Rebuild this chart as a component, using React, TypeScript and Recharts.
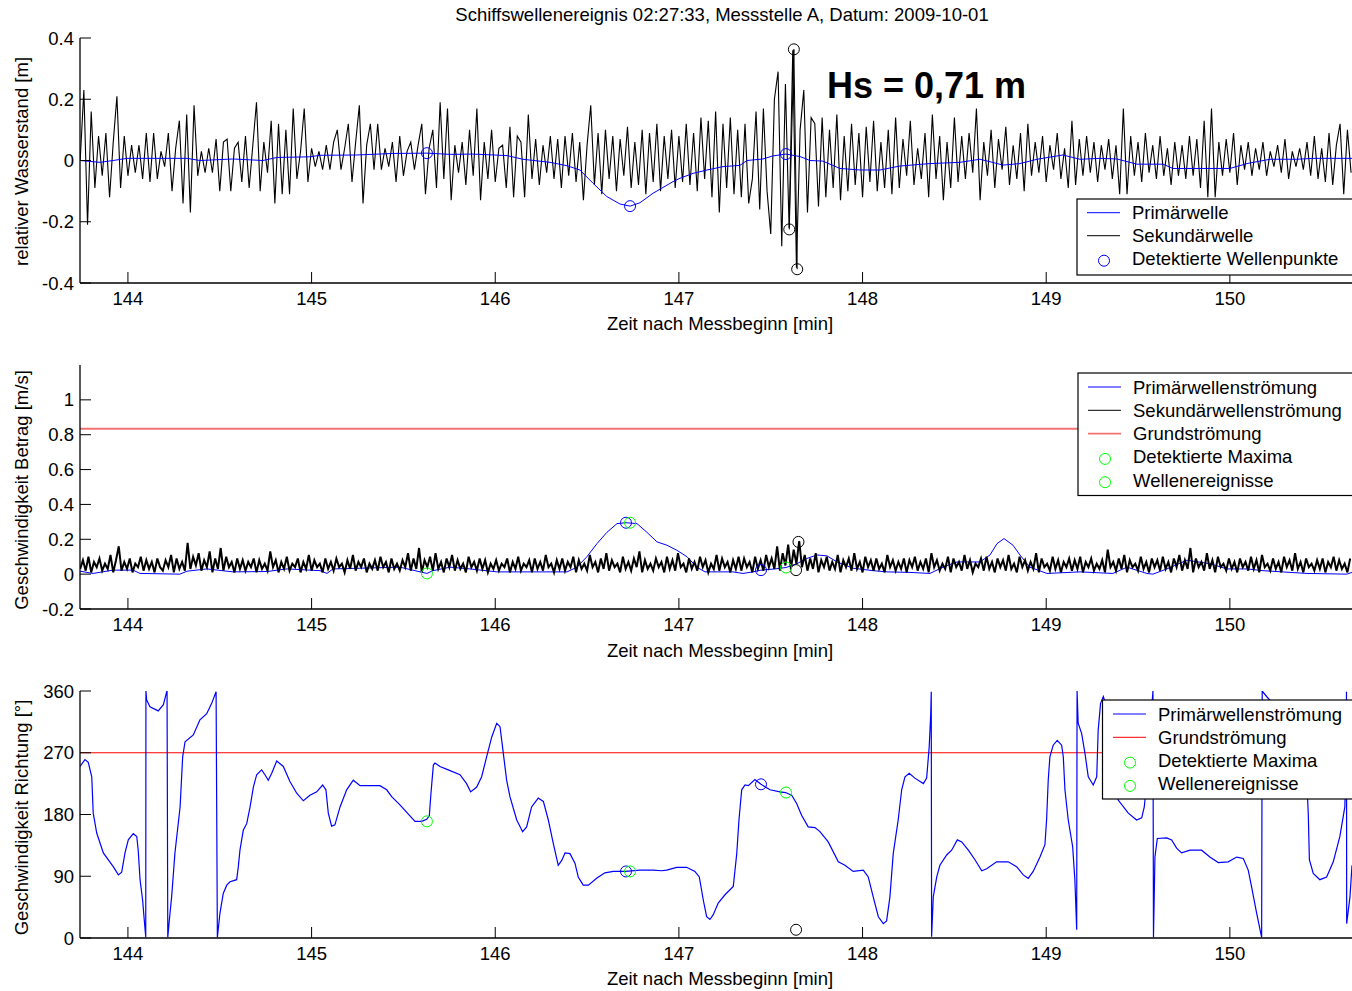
import React from "react";
import { ComposedChart, Line, XAxis, YAxis, ReferenceLine } from "recharts";

const FONT = '"Liberation Sans", Arial, Helvetica, sans-serif';
const W = 1352;
const H = 991;
const T_MIN = 143.739;
const T_MAX = 150.665;
const zeitTicks = [144, 145, 146, 147, 148, 149, 150];

// --- Panel 1: Wasserstand ---
const wasserTicks = [-0.4, -0.2, 0, 0.2, 0.4];
const sekStart = 143.74;
const sekSchritt = 0.02;
// Sekundärwelle, Werte in cm
const sekundaerwelleCm = [
  0, 23, -21, 16, -9, 8, -5, 9, -12, 6, 21, -9, 8, -5, 5, -4, 5, -6, 9, -7,
  9, -6, 3, -2, 9, -10, 4, 13, -14, 15, -17, 18, -5, 3, -4, 4, -4, 7, -10, 6,
  7, -10, 4, 6, -7, 8, -9, 5, 19, -10, 6, -4, 13, -14, 12, -11, 10, -11, 17, -6,
  3, 17, -7, 4, -2, 3, -3, 5, -3, 6, 10, -3, 4, 12, -7, 6, 18, -14, 5, 12,
  -3, 12, -3, 4, -2, 6, -7, 8, -5, 3, 6, -3, 5, 12, -11, 4, 10, -9, 19, -6,
  17, -13, 5, -4, 6, -8, 10, -5, 17, -13, 6, -6, 10, -7, 4, 5, -9, 11, -12, 8,
  6, -12, 15, -6, 7, -8, 5, -4, 8, -6, 7, -9, 8, -5, 9, -7, 6, -13, 5, 18,
  -8, 9, -11, 10, -6, 8, -10, 7, -5, 11, -9, 6, -8, 10, -11, 9, -7, 12, -10, 8,
  -6, 10, -9, 8, -7, 12, -8, 9, -10, 14, -6, 13, -12, 16, -17, 12, -9, 14, -11, 10,
  -12, 12, -14, -6, 16, -16, 17, -10, -24, 20, 29, -28, 25, -22, 36, -35, 10, 23, -17, 14,
  12, -15, 14, -12, 10, -9, 15, -13, 8, -10, 12, -8, 9, -12, 11, -7, 13, -10, 6, -9,
  10, -11, 14, -9, 7, -5, 13, -8, 4, -6, 9, -12, 15, -6, 8, -13, 6, -9, 14, -7,
  8, -6, 9, -4, 17, -13, 6, -5, 10, -9, 7, -3, 11, -8, 5, -6, 9, -10, 12, -5,
  6, -4, 8, -7, 5, -3, 9, -6, 4, -9, 13, -8, 7, -5, 8, -4, 6, -7, 5, -3,
  7, -6, 5, -11, 17, -11, 8, -5, 6, -7, 9, -4, 5, -6, 8, -5, 4, -8, 6, -5,
  5, -6, 8, -5, 7, -9, 13, -12, 17, -12, 6, -5, 7, -4, 9, -8, 5, -3, 6, -5,
  4, -3, 6, -5, 3, -2, 5, -4, 7, -6, 3, -2, 4, -3, 6, -5, 8, -6, 4, -7,
  9, -8, 5, 12, -11, 10, -4,
];
const primaerZeit = [
  143.739, 143.848, 143.919, 143.995, 144.322, 144.392, 144.572, 144.735, 144.812, 144.991,
  145.046, 145.247, 145.443, 145.628, 145.754, 145.879, 146.064, 146.151, 146.298, 146.391,
  146.461, 146.532, 146.608, 146.679, 146.734, 146.788, 146.859, 146.968, 147.006, 147.077,
  147.153, 147.24, 147.332, 147.371, 147.458, 147.512, 147.583, 147.659, 147.714, 147.784,
  147.877, 147.986, 148.095, 148.204, 148.367, 148.53, 148.639, 148.694, 148.764, 148.857,
  148.95, 149.091, 149.184, 149.293, 149.385, 149.494, 149.636, 149.69, 149.821, 150.0,
  150.093, 150.218, 150.365, 150.452, 150.665,
];
const primaerWert = [
  0.0, -0.006, 0.0, 0.007, 0.007, 0.0, 0.005, 0.0, 0.01, 0.012,
  0.017, 0.018, 0.023, 0.024, 0.02, 0.021, 0.016, 0.004, -0.006, -0.017,
  -0.031, -0.074, -0.118, -0.142, -0.149, -0.138, -0.107, -0.069, -0.058, -0.042,
  -0.031, -0.02, -0.016, 0.0, 0.005, 0.015, 0.021, 0.013, 0.0, -0.002,
  -0.026, -0.031, -0.031, -0.018, -0.01, -0.006, 0.004, -0.004, -0.015, -0.01,
  0.004, 0.018, 0.004, 0.007, 0.005, -0.012, -0.012, -0.026, -0.026, -0.026,
  -0.01, 0.004, 0.004, 0.007, 0.007,
];
const wellenpunkteZeit = [145.628, 146.734, 147.583];
const wellenpunkteWert = [0.024, -0.149, 0.021];
const hsZeit = [147.601, 147.626, 147.644];
const hsWert = [-0.225, 0.363, -0.355];

// --- Panel 2: Geschwindigkeit Betrag ---
const betragTicks = [-0.2, 0, 0.2, 0.4, 0.6, 0.8, 1];
const stroemStart = 143.74;
const stroemSchritt = 0.015;
// Sekundärwellenströmung, Werte in cm/s
const sekStroemungCms = [
  3, 8, 2, 10, 1, 7, 4, 9, 2, 6, 3, 11, 1, 8, 16, 2, 7, 3, 9, 1, 6, 4, 10, 2, 8, 3, 7, 1, 9, 4,
  2, 8, 4, 11, 1, 9, 3, 7, 2, 18, 3, 10, 5, 12, 2, 8, 4, 13, 1, 9, 3, 15, 2, 10, 4, 7, 1, 9, 3, 8,
  2, 7, 4, 9, 1, 8, 3, 6, 2, 13, 4, 8, 1, 7, 3, 10, 2, 6, 4, 9, 1, 7, 3, 11, 2, 8, 4, 6, 1, 9,
  3, 7, 2, 9, 4, 6, 1, 8, 3, 11, 2, 7, 4, 9, 1, 6, 3, 8, 2, 10, 4, 7, 1, 9, 3, 6, 2, 8, 4, 12,
  2, 9, 3, 15, 1, 8, 4, 10, 2, 12, 3, 7, 1, 9, 4, 11, 2, 8, 3, 6, 1, 10, 4, 7, 2, 9, 3, 8, 1, 6,
  3, 8, 2, 6, 4, 9, 1, 7, 3, 10, 2, 6, 4, 8, 1, 9, 3, 7, 2, 11, 4, 6, 1, 8, 3, 9, 2, 7, 4, 10,
  1, 8, 3, 6, 2, 11, 4, 7, 1, 9, 3, 12, 2, 8, 4, 6, 1, 10, 3, 7, 2, 9, 4, 13, 1, 8, 3, 6, 2, 9,
  4, 7, 1, 10, 3, 8, 2, 12, 4, 6, 1, 9, 3, 7, 2, 10, 4, 8, 1, 6, 3, 11, 2, 9, 4, 7, 1, 8, 3, 10,
  2, 9, 4, 7, 1, 10, 3, 8, 2, 11, 4, 9, 3, 16, 2, 12, 5, 17, 3, 14, 6, 19, 4, 11, 2, 9, 3, 12, 1, 8,
  4, 10, 2, 7, 3, 11, 1, 8, 4, 9, 2, 12, 3, 7, 1, 10, 4, 8, 2, 9, 3, 6, 1, 11, 4, 8, 2, 7, 3, 9,
  1, 8, 4, 10, 2, 7, 3, 9, 1, 12, 4, 8, 2, 6, 3, 10, 1, 9, 4, 7, 2, 11, 3, 8, 1, 6, 4, 9, 2, 10,
  3, 7, 1, 9, 4, 8, 2, 11, 3, 6, 1, 10, 4, 8, 2, 7, 3, 12, 1, 9, 4, 6, 2, 10, 3, 8, 1, 7, 4, 9,
  2, 8, 3, 10, 1, 7, 4, 9, 2, 6, 3, 8, 1, 14, 4, 7, 2, 9, 3, 11, 1, 8, 4, 6, 2, 10, 3, 7, 1, 9,
  4, 8, 2, 10, 3, 7, 1, 9, 4, 11, 2, 8, 3, 15, 1, 9, 4, 7, 2, 12, 3, 8, 1, 10, 4, 6, 2, 9, 3, 7,
  1, 9, 4, 7, 2, 10, 3, 8, 1, 11, 4, 6, 2, 9, 3, 7, 1, 10, 4, 8, 2, 12, 3, 7, 1, 9, 4, 6, 2, 8,
  3, 9, 1, 7, 4, 10, 2, 8, 3, 6, 1, 9,
];
const primStroemZeit = [
  143.739, 143.81, 143.919, 144.028, 144.066, 144.283, 144.322, 144.43, 144.572, 144.757,
  144.866, 145.046, 145.084, 145.117, 145.481, 145.628, 145.661, 145.754, 145.862, 146.009,
  146.282, 146.391, 146.445, 146.499, 146.554, 146.608, 146.663, 146.712, 146.772, 146.826,
  146.881, 146.935, 146.989, 147.044, 147.098, 147.142, 147.294, 147.349, 147.403, 147.447,
  147.523, 147.583, 147.643, 147.697, 147.752, 147.806, 147.861, 147.948, 148.057, 148.133,
  148.258, 148.367, 148.438, 148.514, 148.639, 148.694, 148.732, 148.77, 148.819, 148.857,
  148.911, 149.004, 149.184, 149.363, 149.44, 149.548, 149.581, 149.657, 149.766, 149.891,
  149.984, 150.093, 150.18, 150.42, 150.637, 150.665,
];
const primStroemWert = [
  0.017, 0.004, 0.023, 0.023, 0.004, 0.0, 0.017, 0.03, 0.013, 0.015,
  0.03, 0.02, 0.004, 0.03, 0.04, 0.004, 0.02, 0.04, 0.03, 0.013,
  0.013, 0.013, 0.04, 0.1, 0.175, 0.24, 0.29, 0.295, 0.29, 0.24,
  0.185, 0.166, 0.137, 0.1, 0.04, 0.013, 0.013, 0.004, 0.013, 0.023,
  0.03, 0.038, 0.06, 0.09, 0.11, 0.105, 0.07, 0.034, 0.02, 0.013,
  0.01, 0.004, 0.04, 0.07, 0.07, 0.11, 0.175, 0.204, 0.166, 0.11,
  0.04, 0.004, 0.013, 0.004, 0.04, 0.004, 0.0, 0.03, 0.08, 0.06,
  0.03, 0.03, 0.02, 0.004, 0.0, 0.01,
];
const grundStroemungBetrag = 0.834;
const maxBetragZeit = [146.712, 147.447];
const maxBetragWert = [0.295, 0.023];
const ereignisBetragZeit = [145.628, 146.734, 147.583];
const ereignisBetragWert = [0.004, 0.295, 0.038];
const sekMaxBetragZeit = [147.651, 147.638];
const sekMaxBetragWert = [0.185, 0.023];

// --- Panel 3: Geschwindigkeit Richtung ---
const richtungTicks = [0, 90, 180, 270, 360];
const richtungZeit = [
  143.739, 143.766, 143.784, 143.803, 143.811, 143.83, 143.866, 143.92, 143.948, 143.966,
  143.984, 144.002, 144.029, 144.048, 144.056, 144.066, 144.08, 144.089, 144.097, 144.098,
  144.102, 144.12, 144.165, 144.193, 144.211, 144.213, 144.217, 144.229, 144.238, 144.256,
  144.284, 144.298, 144.311, 144.356, 144.392, 144.429, 144.456, 144.48, 144.487, 144.501,
  144.519, 144.538, 144.556, 144.592, 144.601, 144.61, 144.628, 144.647, 144.665, 144.683,
  144.701, 144.728, 144.746, 144.764, 144.783, 144.81, 144.846, 144.882, 144.919, 144.955,
  144.991, 145.028, 145.06, 145.078, 145.091, 145.109, 145.127, 145.155, 145.191, 145.227,
  145.264, 145.336, 145.372, 145.409, 145.436, 145.481, 145.563, 145.599, 145.627, 145.641,
  145.65, 145.663, 145.672, 145.699, 145.744, 145.808, 145.844, 145.866, 145.899, 145.926,
  145.953, 145.981, 146.008, 146.026, 146.044, 146.062, 146.08, 146.117, 146.149, 146.171,
  146.198, 146.234, 146.262, 146.289, 146.316, 146.343, 146.362, 146.38, 146.407, 146.434,
  146.452, 146.479, 146.507, 146.552, 146.597, 146.643, 146.71, 146.788, 146.86, 146.906,
  146.933, 146.988, 147.042, 147.087, 147.111, 147.133, 147.151, 147.169, 147.187, 147.214,
  147.251, 147.296, 147.315, 147.327, 147.342, 147.36, 147.378, 147.414, 147.447, 147.496,
  147.55, 147.581, 147.614, 147.641, 147.668, 147.704, 147.741, 147.768, 147.813, 147.868,
  147.904, 147.949, 148.004, 148.031, 148.058, 148.086, 148.113, 148.131, 148.149, 148.167,
  148.194, 148.213, 148.231, 148.254, 148.285, 148.331, 148.349, 148.363, 148.371, 148.374,
  148.376, 148.385, 148.404, 148.421, 148.458, 148.485, 148.516, 148.54, 148.576, 148.612,
  148.649, 148.676, 148.73, 148.793, 148.839, 148.875, 148.902, 148.929, 148.966, 148.993,
  149.002, 149.011, 149.02, 149.038, 149.06, 149.084, 149.093, 149.102, 149.12, 149.144,
  149.156, 149.166, 149.168, 149.174, 149.193, 149.211, 149.229, 149.256, 149.275, 149.283,
  149.296, 149.311, 149.336, 149.363, 149.392, 149.447, 149.492, 149.52, 149.534, 149.543,
  149.559, 149.576, 149.581, 149.584, 149.592, 149.605, 149.656, 149.683, 149.71, 149.737,
  149.783, 149.846, 149.891, 149.937, 149.991, 150.037, 150.073, 150.1, 150.118, 150.146,
  150.173, 150.176, 150.2, 150.273, 150.381, 150.414, 150.427, 150.433, 150.454, 150.49,
  150.527, 150.563, 150.599, 150.626, 150.632, 150.635, 150.636, 150.654, 150.665,
];
const richtungGrad = [
  250, 260, 256, 235, 182, 153, 124, 104, 92, 96,
  124, 143, 152, 148, 128, 85, 55, 26, 1, 360,
  347, 337, 331, 340, 359, 360, 1, 36, 60, 124,
  191, 264, 286, 296, 318, 327, 342, 359, 1, 36,
  65, 77, 82, 85, 104, 128, 157, 167, 191, 220,
  238, 245, 238, 230, 240, 258, 250, 228, 211, 200,
  208, 213, 223, 216, 182, 163, 165, 191, 216, 230,
  222, 222, 222, 216, 206, 194, 170, 170, 173, 178,
  211, 252, 255, 250, 245, 238, 225, 213, 220, 235,
  264, 293, 313, 308, 269, 230, 206, 172, 155, 162,
  191, 204, 199, 172, 138, 106, 113, 124, 123, 109,
  89, 77, 77, 87, 95, 97, 97, 99, 99, 98,
  99, 103, 103, 97, 89, 55, 31, 27, 34, 51,
  63, 75, 123, 172, 216, 223, 222, 231, 224, 216,
  213, 212, 208, 196, 179, 162, 161, 155, 140, 111,
  106, 97, 99, 89, 60, 31, 21, 25, 60, 123,
  172, 216, 235, 240, 233, 225, 233, 279, 325, 359,
  2, 60, 89, 106, 121, 128, 143, 140, 128, 114,
  98, 101, 111, 111, 104, 92, 87, 97, 118, 136,
  172, 230, 264, 281, 288, 281, 264, 216, 172, 133,
  85, 12, 360, 313, 298, 269, 235, 223, 235, 303,
  342, 352, 330, 265, 201, 182, 172, 175, 191, 215,
  280, 340, 360, 1, 118, 145, 146, 143, 131, 124,
  128, 128, 118, 110, 111, 118, 116, 99, 75, 36,
  1, 360, 352, 330, 300, 260, 180, 114, 94, 85,
  89, 111, 148, 191, 260, 359, 21, 60, 106,
];
const grundStroemungRichtung = 270;
const maxRichtungZeit = [146.712, 147.447];
const maxRichtungWert = [97, 224];
const ereignisRichtungZeit = [145.628, 146.734, 147.583];
const ereignisRichtungWert = [170, 97, 212];
const sekRichtungZeit = [147.638];
const sekRichtungWert = [12];

// --- Datenaufbereitung ---
const zip = (ts: number[], vs: number[]) => ts.map((t, i) => ({ t, v: vs[i] }));
const sekData = sekundaerwelleCm.map((v, i) => ({ t: sekStart + i * sekSchritt, v: v / 100 }));
const primData = zip(primaerZeit, primaerWert);
const punkteData = zip(wellenpunkteZeit, wellenpunkteWert);
const hsData = zip(hsZeit, hsWert);
const sekStromData = sekStroemungCms.map((v, i) => ({ t: stroemStart + i * stroemSchritt, v: v / 100 }));
const primStromData = zip(primStroemZeit, primStroemWert);
const maxBetragData = zip(maxBetragZeit, maxBetragWert);
const ereignisBetragData = zip(ereignisBetragZeit, ereignisBetragWert);
const sekMaxBetragData = zip(sekMaxBetragZeit, sekMaxBetragWert);
const richtungData = zip(richtungZeit, richtungGrad);
const maxRichtungData = zip(maxRichtungZeit, maxRichtungWert);
const ereignisRichtungData = zip(ereignisRichtungZeit, ereignisRichtungWert);
const sekRichtungData = zip(sekRichtungZeit, sekRichtungWert);

const PLOT_LEFT = 80;
const TICK_LEN = 11;
const AXIS_STROKE = { stroke: "#000", strokeWidth: 1.3 };
const GRUND_ROT = "#f27272";

const bottomTick = (axisY: number) => (p: any) => (
  <g>
    <line x1={p.x} x2={p.x} y1={axisY} y2={axisY - TICK_LEN} stroke="#000" />
    <text x={p.x} y={axisY + 22} textAnchor="middle" fontSize={18.5} fontFamily={FONT} fill="#000">
      {p.payload.value}
    </text>
  </g>
);

const topTick = (axisY: number) => (p: any) => (
  <line x1={p.x} x2={p.x} y1={axisY} y2={axisY + TICK_LEN} stroke="#000" />
);

const leftTick = (p: any) => (
  <g>
    <line x1={PLOT_LEFT} x2={PLOT_LEFT + TICK_LEN} y1={p.y} y2={p.y} stroke="#000" />
    <text x={PLOT_LEFT - 6} y={p.y + 6.5} textAnchor="end" fontSize={18.5} fontFamily={FONT} fill="#000">
      {p.payload.value}
    </text>
  </g>
);

const circleDot = (color: string) => (p: any) => (
  <circle key={`c-${color}-${p.index}`} cx={p.cx} cy={p.cy} r={5.5} fill="none" stroke={color} strokeWidth={1} />
);

const axes = (plotTop: number, plotBottom: number, xHeight: number, domain: [number, number], ticks: number[]) => [
  <XAxis
    key="xb"
    type="number"
    dataKey="t"
    domain={[T_MIN, T_MAX]}
    ticks={zeitTicks}
    interval={0}
    allowDataOverflow
    height={xHeight}
    axisLine={AXIS_STROKE}
    tickLine={false}
    tick={bottomTick(plotBottom)}
  />,
  <XAxis
    key="xt"
    xAxisId="top"
    orientation="top"
    type="number"
    dataKey="t"
    domain={[T_MIN, T_MAX]}
    ticks={zeitTicks}
    interval={0}
    allowDataOverflow
    height={0}
    axisLine={AXIS_STROKE}
    tickLine={false}
    tick={topTick(plotTop)}
  />,
  <YAxis
    key="y"
    type="number"
    dataKey="v"
    domain={domain}
    ticks={ticks}
    interval={0}
    allowDataOverflow
    width={PLOT_LEFT}
    axisLine={AXIS_STROKE}
    tickLine={false}
    tick={leftTick}
  />,
];

type RowProps = { x: number; y: number; kind: "line" | "circle"; color: string; label: string; width?: number };

const LegendRow = ({ x, y, kind, color, label, width = 1 }: RowProps) => (
  <g>
    {kind === "line" ? (
      <line x1={x + 10} x2={x + 43} y1={y} y2={y} stroke={color} strokeWidth={width} />
    ) : (
      <circle cx={x + 27} cy={y + 2} r={5.5} fill="none" stroke={color} strokeWidth={1} />
    )}
    <text x={x + 55} y={y + 6.5} fontSize={18.5} fontFamily={FONT} fill="#000">
      {label}
    </text>
  </g>
);

export default function App() {
  return (
    <div style={{ position: "relative", width: W, height: H, overflow: "hidden", background: "#fff" }}>
      <style>{"body{margin:0}"}</style>

      <div style={{ position: "absolute", left: 0, top: 0 }}>
        <ComposedChart width={W} height={340} margin={{ top: 38, right: 0, bottom: 0, left: 0 }}>
          {axes(38, 283, 57, [-0.4, 0.4], wasserTicks)}
          <Line data={sekData} dataKey="v" type="linear" stroke="#000" strokeWidth={1.1} dot={false} activeDot={false} isAnimationActive={false} />
          <Line data={primData} dataKey="v" type="linear" stroke="#0000ff" strokeWidth={1} dot={false} activeDot={false} isAnimationActive={false} />
          <Line data={hsData} dataKey="v" type="linear" stroke="#000" strokeWidth={1} dot={circleDot("#000")} activeDot={false} isAnimationActive={false} />
          <Line data={punkteData} dataKey="v" type="linear" stroke="none" dot={circleDot("#0000ff")} activeDot={false} isAnimationActive={false} />
        </ComposedChart>
      </div>

      <div style={{ position: "absolute", left: 0, top: 340 }}>
        <ComposedChart width={W} height={330} margin={{ top: 25, right: 0, bottom: 0, left: 0 }}>
          {axes(25, 269, 61, [-0.2, 1.2], betragTicks)}
          <ReferenceLine y={grundStroemungBetrag} stroke={GRUND_ROT} strokeWidth={2} />
          <Line data={primStromData} dataKey="v" type="linear" stroke="#0000ff" strokeWidth={1} dot={false} activeDot={false} isAnimationActive={false} />
          <Line data={sekStromData} dataKey="v" type="linear" stroke="#000" strokeWidth={2} dot={false} activeDot={false} isAnimationActive={false} />
          <Line data={maxBetragData} dataKey="v" type="linear" stroke="none" dot={circleDot("#0000ff")} activeDot={false} isAnimationActive={false} />
          <Line data={sekMaxBetragData} dataKey="v" type="linear" stroke="none" dot={circleDot("#000")} activeDot={false} isAnimationActive={false} />
          <Line data={ereignisBetragData} dataKey="v" type="linear" stroke="none" dot={circleDot("#00ff00")} activeDot={false} isAnimationActive={false} />
        </ComposedChart>
      </div>

      <div style={{ position: "absolute", left: 0, top: 670 }}>
        <ComposedChart width={W} height={321} margin={{ top: 21, right: 0, bottom: 0, left: 0 }}>
          {axes(21, 268, 53, [0, 360], richtungTicks)}
          <ReferenceLine y={grundStroemungRichtung} stroke="#ff0000" strokeWidth={1} />
          <Line data={richtungData} dataKey="v" type="linear" stroke="#0000ff" strokeWidth={1.2} dot={false} activeDot={false} isAnimationActive={false} />
          <Line data={maxRichtungData} dataKey="v" type="linear" stroke="none" dot={circleDot("#0000ff")} activeDot={false} isAnimationActive={false} />
          <Line data={sekRichtungData} dataKey="v" type="linear" stroke="none" dot={circleDot("#000")} activeDot={false} isAnimationActive={false} />
          <Line data={ereignisRichtungData} dataKey="v" type="linear" stroke="none" dot={circleDot("#00ff00")} activeDot={false} isAnimationActive={false} />
        </ComposedChart>
      </div>

      <svg width={W} height={H} style={{ position: "absolute", left: 0, top: 0 }} fontFamily={FONT}>
        <text x={722} y={21} textAnchor="middle" fontSize={18.5} fill="#000">
          Schiffswellenereignis 02:27:33, Messstelle A, Datum: 2009-10-01
        </text>
        <text x={827} y={98} fontSize={36} fontWeight="bold" fill="#000">
          Hs = 0,71 m
        </text>

        <text x={720} y={330} textAnchor="middle" fontSize={18.5} fill="#000">Zeit nach Messbeginn [min]</text>
        <text x={720} y={657} textAnchor="middle" fontSize={18.5} fill="#000">Zeit nach Messbeginn [min]</text>
        <text x={720} y={985} textAnchor="middle" fontSize={18.5} fill="#000">Zeit nach Messbeginn [min]</text>

        <text transform="translate(28,161.5) rotate(-90)" textAnchor="middle" fontSize={18.5} fill="#000">relativer Wasserstand [m]</text>
        <text transform="translate(27.5,490) rotate(-90)" textAnchor="middle" fontSize={18.5} fill="#000">Geschwindigkeit Betrag [m/s]</text>
        <text transform="translate(27.5,817.5) rotate(-90)" textAnchor="middle" fontSize={18.5} fill="#000">Geschwindigkeit Richtung [°]</text>

        <rect x={1077} y={199} width={300} height={76} fill="#fff" stroke="#000" strokeWidth={1.2} />
        <LegendRow x={1077} y={212.7} kind="line" color="#0000ff" label="Primärwelle" />
        <LegendRow x={1077} y={235.7} kind="line" color="#000" label="Sekundärwelle" />
        <LegendRow x={1077} y={258.7} kind="circle" color="#0000ff" label="Detektierte Wellenpunkte" />

        <rect x={1078} y={373} width={300} height={122.5} fill="#fff" stroke="#000" strokeWidth={1.2} />
        <LegendRow x={1078} y={387} kind="line" color="#0000ff" label="Primärwellenströmung" />
        <LegendRow x={1078} y={410.3} kind="line" color="#000" label="Sekundärwellenströmung" />
        <LegendRow x={1078} y={433.6} kind="line" color={GRUND_ROT} width={1.6} label="Grundströmung" />
        <LegendRow x={1078} y={456.9} kind="circle" color="#00ff00" label="Detektierte Maxima" />
        <LegendRow x={1078} y={480.2} kind="circle" color="#00ff00" label="Wellenereignisse" />

        <rect x={1102.5} y={700} width={280} height={99} fill="#fff" stroke="#000" strokeWidth={1.2} />
        <LegendRow x={1103} y={714} kind="line" color="#0000ff" label="Primärwellenströmung" />
        <LegendRow x={1103} y={737.3} kind="line" color="#ff0000" label="Grundströmung" />
        <LegendRow x={1103} y={760.6} kind="circle" color="#00ff00" label="Detektierte Maxima" />
        <LegendRow x={1103} y={783.9} kind="circle" color="#00ff00" label="Wellenereignisse" />
      </svg>
    </div>
  );
}
